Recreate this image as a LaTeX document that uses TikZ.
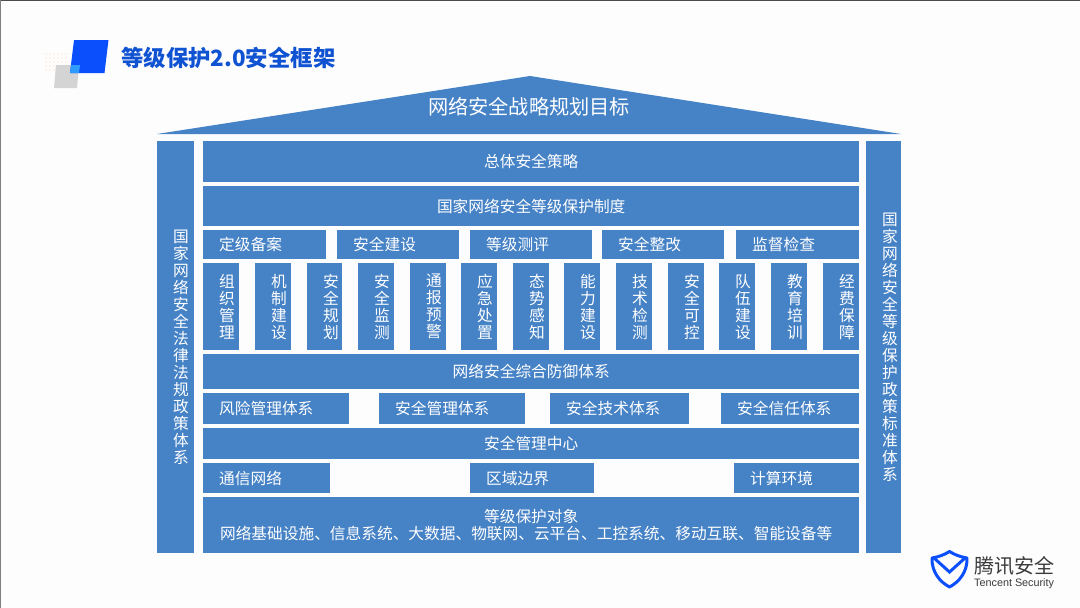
\documentclass[tikz,border=0pt]{standalone}
\usepackage{fontspec}
\newfontfamily\cjk{Noto Sans CJK SC}
\newfontfamily\latinfont{Liberation Sans}
\definecolor{barblue}{HTML}{4682C6}
\definecolor{logoblue}{HTML}{0B4EFB}
\definecolor{overlapblue}{HTML}{2F9BFF}
\definecolor{titleblue}{HTML}{0F52D2}
\definecolor{paper}{HTML}{FDFDFE}
\definecolor{inktext}{HTML}{3A3A3C}
\tikzstyle{bar}=[fill=barblue,text=white,inner sep=0pt,anchor=north west,font=\cjk\fontsize{15.7}{17}\selectfont]
\tikzstyle{midbar}=[bar,align=center,minimum width=656pt]
\tikzstyle{cell}=[bar,align=left,execute at begin node={\leftskip=16pt}]

\begin{document}
\begin{tikzpicture}[x=1pt,y=-1pt]
	\useasboundingbox (0,0) rectangle (1080,608);
	\fill[paper] (0,0) rectangle (1080,608);
	\draw[black!70,line width=1.5pt] (0,0.5) -- (1080,0.5);
	\draw[black!50,line width=1pt] (0.5,0) -- (0.5,608);

	% logo and heading
	\foreach \x in {46,50,...,66}
		\foreach \y in {54,58,...,72}
			\fill[orange!35] (\x,\y) circle (0.7pt);
	\fill[black!17] (56,65) -- (79,65) -- (77,88) -- (54,88) -- cycle;
	\fill[logoblue] (74,40) -- (108.5,40) -- (104.5,73) -- (70,73) -- cycle;
	\fill[overlapblue] (71,65) -- (80,65) -- (79,73) -- (70,73) -- cycle;
	\node[text=titleblue,inner sep=0pt,anchor=west,font=\cjk\bfseries\fontsize{22.4}{25}\selectfont] (heading) at (121,58) {等级保护2.0安全框架};

	% roof
	\fill[barblue] (157,134) -- (530,76) -- (901,134) -- cycle;
	\node[text=white,inner sep=0pt,font=\cjk\fontsize{20.2}{22}\selectfont] (goal) at (529,107) {网络安全战略规划目标};

	% side columns
	\node[cell,text width=37pt,minimum height=412pt] (lawcol) at (157,141) {国\\家\\网\\络\\安\\全\\法\\律\\法\\规\\政\\策\\体\\系};
	\node[cell,text width=35pt,minimum height=412pt] (stdcol) at (866,141) {国\\家\\网\\络\\安\\全\\等\\级\\保\\护\\政\\策\\标\\准\\体\\系};

	% main stack
	\node[midbar,minimum height=41pt] (policy) at (203,141) {总体安全策略};
	\node[midbar,minimum height=40pt] (system) at (203,186) {国家网络安全等级保护制度};

	\foreach \n/\x/\w/\lab in {a/203/123/定级备案,b/337/122/安全建设,c/470/122/等级测评,d/602/122/安全整改,e/736/123/监督检查}
		\node[cell,text width=\w pt,minimum height=29pt] (step\n) at (\x,230) {\lab};

	\foreach \n/\x/\w/\lab in {a/203/36/组\\织\\管\\理,b/255/36/机\\制\\建\\设,c/307/35/安\\全\\规\\划,d/358/36/安\\全\\监\\测,e/410/36/通\\报\\预\\警,f/461/36/应\\急\\处\\置,g/513/36/态\\势\\感\\知,h/564/36/能\\力\\建\\设,i/616/36/技\\术\\检\\测,j/668/36/安\\全\\可\\控,k/719/36/队\\伍\\建\\设,l/771/36/教\\育\\培\\训,m/823/36/经\\费\\保\\障}
		\node[cell,text width=\w pt,minimum height=87pt] (task\n) at (\x,263) {\lab};

	\node[midbar,minimum height=35pt] (defence) at (203,354) {网络安全综合防御体系};

	\foreach \n/\x/\w/\lab in {a/203/146/风险管理体系,b/379/146/安全管理体系,c/550/139/安全技术体系,d/721/138/安全信任体系}
		\node[cell,text width=\w pt,minimum height=31pt] (scheme\n) at (\x,393) {\lab};

	\node[midbar,minimum height=31pt] (centre) at (203,428) {安全管理中心};

	\foreach \n/\x/\w/\lab in {a/203/127/通信网络,b/470/124/区域边界,c/734/125/计算环境}
		\node[cell,text width=\w pt,minimum height=30pt] (zone\n) at (\x,463) {\lab};

	\node[midbar,minimum height=56pt] (target) at (203,497) {等级保护对象\\\hspace*{-10pt}网络基础设施、信息系统、大数据、物联网、云平台、工控系统、移动互联、智能设备等};

	% company mark
	\draw[logoblue,line width=3pt,line join=round] (949.5,551.5) .. controls (955,555) and (961,557) .. (967,558) .. controls (967.5,572) and (959,582) .. (949.5,587) .. controls (940,582) and (931.5,572) .. (932,558) .. controls (938,557) and (944,555) .. (949.5,551.5) -- cycle;
	\draw[logoblue,line width=3pt] (934,558) -- (949.5,572) -- (965,558);
	\node[text=inktext,inner sep=0pt,anchor=west,font=\cjk\fontsize{20}{22}\selectfont] (brand) at (974,566) {腾讯安全};
	\node[text=inktext,inner sep=0pt,anchor=west,font=\latinfont\fontsize{10.8}{12}\selectfont] (brandlatin) at (974,584) {Tencent Security};
\end{tikzpicture}
\end{document}
